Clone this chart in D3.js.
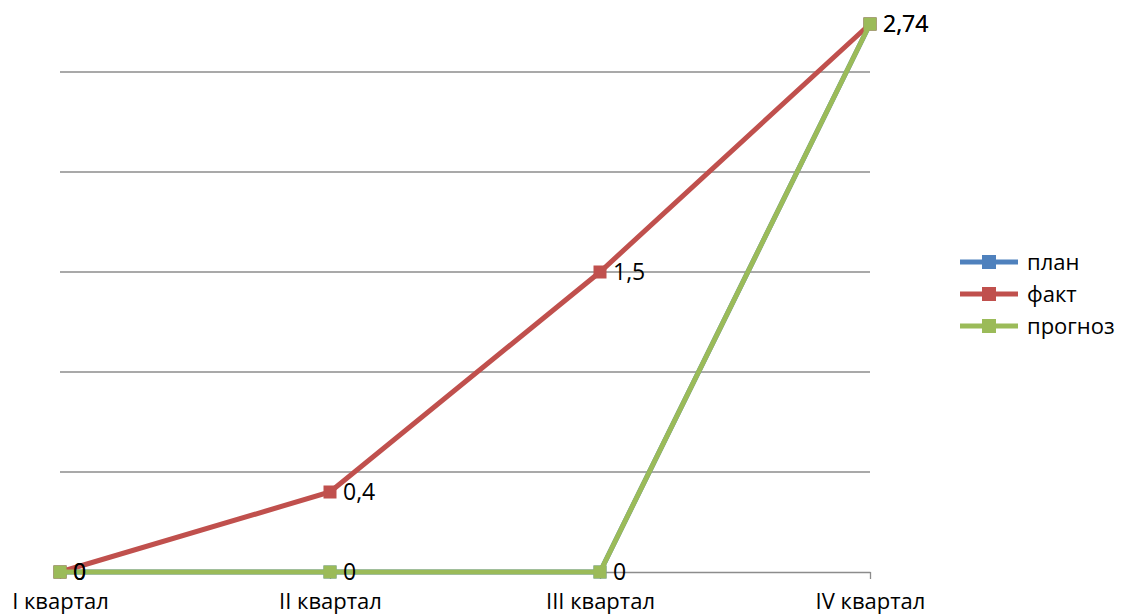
<!DOCTYPE html>
<html lang="ru">
  <head>
    <meta charset="utf-8">
    <title>Кварталы</title>
    <style>
      body { margin: 0; background: #fff; }
      svg { display: block; font-family: "Open Sans", "Liberation Sans", sans-serif; }
    </style>
  </head>
  <body>
    <script src="https://cdn.jsdelivr.net/npm/d3@7"></script>
    <script>
      // chart values
      var categories = ["I квартал", "II квартал", "III квартал", "IV квартал"];
      var seriesNames = ["план", "факт", "прогноз"];
      var plan = [0, 0, 0, 2.74];
      var fact = [0, 0.4, 1.5, 2.74];
      var forecast = [0, 0, 0, 2.74];
      var gridValues = [0.5, 1, 1.5, 2, 2.5];
      var colors = ["#4f81bd", "#c0504d", "#9bbb59"];

      var width = 1121, height = 616;

      var svg = d3.select("body").append("svg")
          .attr("width", width)
          .attr("height", height);

      var x = d3.scalePoint(categories, [60, 870]);
      var y = d3.scaleLinear([0, 2.75], [572, 22]);

      // gridlines
      svg.append("g")
          .selectAll("line")
          .data(gridValues)
          .join("line")
          .attr("x1", 60)
          .attr("x2", 870)
          .attr("y1", d => y(d))
          .attr("y2", d => y(d))
          .attr("stroke", "#8c8c8c")
          .attr("stroke-width", 1.3);

      // x axis
      var xAxis = d3.axisBottom(x).tickSize(7).tickPadding(14).tickSizeOuter(0);
      svg.append("g")
          .attr("transform", `translate(0,${y(0)})`)
          .call(xAxis)
          .call(g => g.select(".domain").attr("stroke", "#8c8c8c").attr("stroke-width", 1.3))
          .call(g => g.selectAll(".tick line").attr("stroke", "#8c8c8c").attr("stroke-width", 1.3))
          .call(g => g.selectAll(".tick text")
              .attr("fill", "#000")
              .attr("font-size", 22)
              .attr("font-family", "'Open Sans', 'Liberation Sans', sans-serif"));

      var series = [
        {name: seriesNames[0], values: plan, color: colors[0], labels: false},
        {name: seriesNames[1], values: fact, color: colors[1], labels: true},
        {name: seriesNames[2], values: forecast, color: colors[2], labels: true}
      ];

      var line = d3.line()
          .x((d, i) => x(categories[i]))
          .y(d => y(d));

      var sg = svg.append("g")
          .selectAll("g")
          .data(series)
          .join("g");

      sg.append("path")
          .attr("d", d => line(d.values))
          .attr("fill", "none")
          .attr("stroke", d => d.color)
          .attr("stroke-width", 5);

      sg.selectAll("rect")
          .data(d => d.values.map((v, i) => ({v: v, i: i, color: d.color})))
          .join("rect")
          .attr("x", d => x(categories[d.i]) - 6.5)
          .attr("y", d => y(d.v) - 6.5)
          .attr("width", 13)
          .attr("height", 13)
          .attr("fill", d => d.color);

      // data labels
      var labels = [];
      series.forEach(s => {
        if (!s.labels) return;
        s.values.forEach((v, i) => labels.push({v: v, i: i}));
      });

      svg.append("g")
          .selectAll("text")
          .data(labels)
          .join("text")
          .attr("x", d => x(categories[d.i]) + 13)
          .attr("y", d => y(d.v))
          .attr("dy", "0.36em")
          .attr("font-size", 23)
          .text(d => String(d.v).replace(".", ","));

      // legend
      var legend = svg.append("g")
          .selectAll("g")
          .data(series)
          .join("g")
          .attr("transform", (d, i) => `translate(960,${262 + i * 32})`);

      legend.append("line")
          .attr("x1", 0)
          .attr("x2", 58)
          .attr("stroke", d => d.color)
          .attr("stroke-width", 5);

      legend.append("rect")
          .attr("x", 22)
          .attr("y", -7)
          .attr("width", 14)
          .attr("height", 14)
          .attr("fill", d => d.color);

      legend.append("text")
          .attr("x", 67)
          .attr("dy", "0.36em")
          .attr("font-size", 22)
          .text(d => d.name);
    </script>
  </body>
</html>
